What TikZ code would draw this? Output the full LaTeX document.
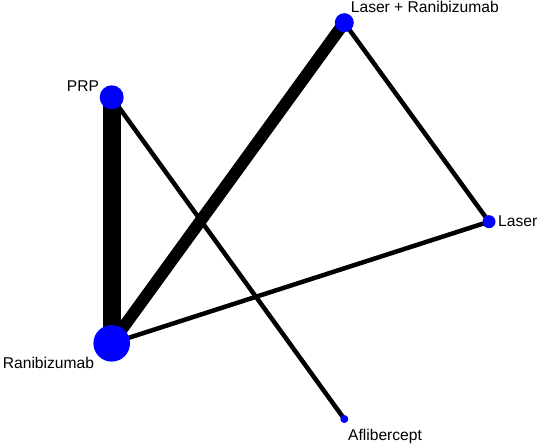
\documentclass[tikz,border=0pt]{standalone}
\usepackage{fontspec}
\setmainfont{Liberation Sans}
\usetikzlibrary{backgrounds}
\definecolor{nodeblue}{RGB}{0,0,255}
\tikzset{
  trt/.style={circle, fill=nodeblue, inner sep=0pt, minimum size=#1},
  lbl/.style={anchor=base west, inner sep=0pt, font=\fontsize{15.6}{18}\selectfont},
  edge/.style={line width=#1, black},
}
\begin{document}
\begin{tikzpicture}[x=1pt,y=1pt]
\useasboundingbox (0,0) rectangle (540,444);
\node[trt=19pt]   (lr)  at (344.3,421.3) {};
\node[trt=24pt]   (prp) at (111.7,346.7) {};
\node[trt=13pt]   (las) at (489,222.3) {};
\node[trt=36.6pt] (ran) at (111.7,100.7) {};
\node[trt=8pt]    (afl) at (344.3,25) {};
\node[lbl] (lrl)  at (350.7,431.3) {Laser + Ranibizumab};
\node[lbl] (prpl) at (66.7,352.3) {PRP};
\node[lbl] (lasl) at (498,217) {Laser};
\node[lbl] (ranl) at (2.7,75) {Ranibizumab};
\node[lbl] (afll) at (348,4) {Aflibercept};
\begin{scope}[on background layer]
\fill[white] (0,0) rectangle (540,444);
\draw[edge=18pt] (prp.center) -- (ran.center);
\draw[edge=12pt] (ran.center) -- (lr.center);
\draw[edge=4.5pt] (prp.center) -- (afl.center);
\draw[edge=4.5pt] (lr.center) -- (las.center);
\draw[edge=4.5pt] (ran.center) -- (las.center);
\end{scope}
\end{tikzpicture}
\end{document}
